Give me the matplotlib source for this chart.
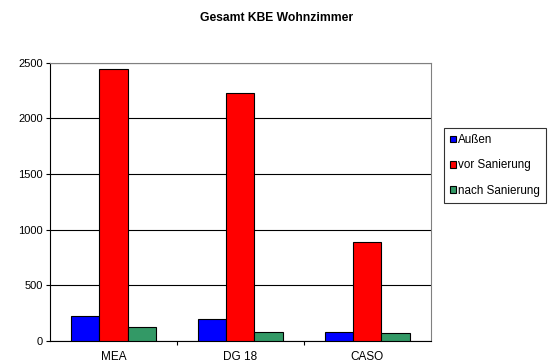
import numpy as np
import matplotlib.pyplot as plt

# data
categories = ["MEA", "DG 18", "CASO"]
aussen = [222, 202, 82]
vor_sanierung = [2440, 2230, 890]
nach_sanierung = [128, 82, 72]
series_names = ["Außen", "vor Sanierung", "nach Sanierung"]
colors = ["#0000ff", "#ff0000", "#339966"]

plt.rcParams['font.family'] = ['Liberation Sans', 'DejaVu Sans']

fig = plt.figure(figsize=(5.53, 3.63), dpi=100)
ax = fig.add_axes([0.0904, 0.0606, 0.6885, 0.7667])

x = np.arange(len(categories))
w = 0.222
series = [aussen, vor_sanierung, nach_sanierung]
for k, vals in enumerate(series):
    ax.bar(x + (k - 1) * w, vals, width=w, color=colors[k],
           edgecolor='black', linewidth=0.8, label=series_names[k], zorder=3)

ax.set_xlim(-0.5, len(categories) - 0.5)
ax.set_ylim(0, 2500)
ax.set_yticks(np.arange(0, 2501, 500))
ax.yaxis.grid(True, color='black', linewidth=0.8, zorder=0)

ax.set_xticks(x)
ax.set_xticklabels(categories)
ax.set_xticks(np.arange(0.5, len(categories) - 0.5, 1), minor=True)
ax.tick_params(axis='x', which='major', length=0, pad=7, labelsize=8.5)
ax.tick_params(axis='x', which='minor', length=3, direction='out', width=0.8)
ax.tick_params(axis='y', length=3, direction='out', width=0.8, labelsize=8, pad=2)

ax.spines['left'].set_color('black')
ax.spines['bottom'].set_color('black')
ax.spines['top'].set_color('#808080')
ax.spines['right'].set_color('#808080')
for s in ax.spines.values():
    s.set_linewidth(0.8)

fig.text(0.5, 0.95, "Gesamt KBE Wohnzimmer", ha='center', va='center',
         fontsize=8.7, fontweight='bold')

leg = fig.legend(loc='upper left', bbox_to_anchor=(0.803, 0.647),
                 fontsize=8.4, frameon=True, fancybox=False,
                 edgecolor='black', handlelength=0.5, handleheight=0.5,
                 handletextpad=0.2, labelspacing=1.15, borderpad=0.5,
                 borderaxespad=0)
leg.get_frame().set_linewidth(0.8)

fig.savefig("out.png", dpi=100)
